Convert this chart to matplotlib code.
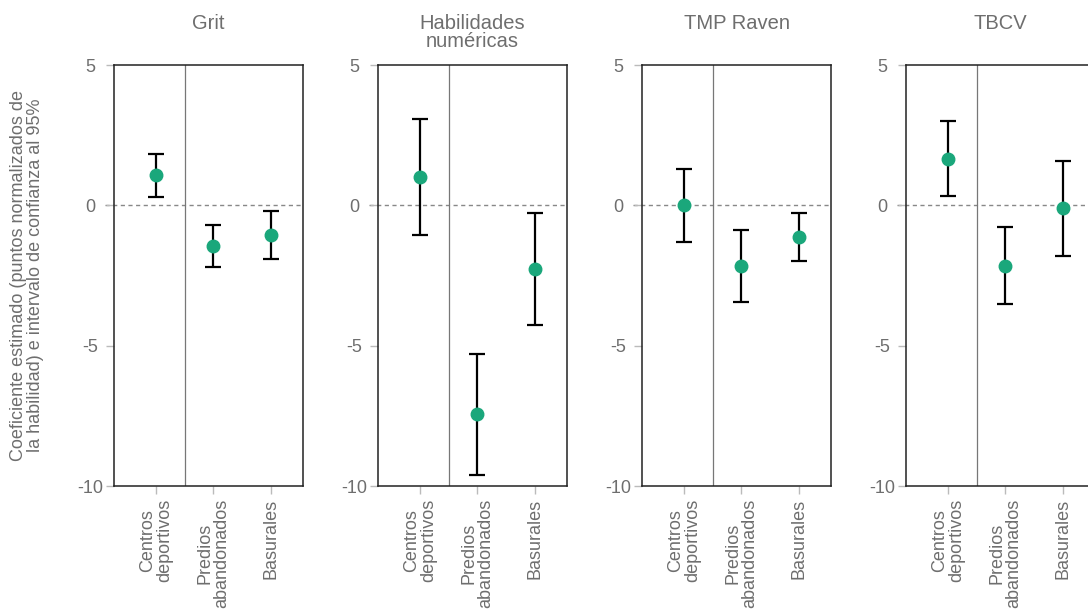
import matplotlib.pyplot as plt
import numpy as np

plt.rcParams['font.family'] = ['Liberation Sans', 'DejaVu Sans']

# Data
tests = ['Grit', 'Habilidades\nnuméricas', 'TMP Raven', 'TBCV']
places = ['Centros\ndeportivos', 'Predios\nabandonados', 'Basurales']

grit_est = [1.08, -1.44, -1.07]
grit_lo = [0.30, -2.18, -1.92]
grit_hi = [1.83, -0.69, -0.19]

num_est = [1.00, -7.43, -2.28]
num_lo = [-1.07, -9.60, -4.27]
num_hi = [3.06, -5.30, -0.29]

raven_est = [0.00, -2.17, -1.14]
raven_lo = [-1.32, -3.46, -1.99]
raven_hi = [1.28, -0.89, -0.29]

tbcv_est = [1.66, -2.15, -0.10]
tbcv_lo = [0.32, -3.53, -1.79]
tbcv_hi = [2.99, -0.78, 1.59]

estimates = [grit_est, num_est, raven_est, tbcv_est]
lowers = [grit_lo, num_lo, raven_lo, tbcv_lo]
uppers = [grit_hi, num_hi, raven_hi, tbcv_hi]

green = '#1aa77b'
grey_txt = '#6e6e6e'

W, H = 1088, 614
fig = plt.figure(figsize=(W / 100, H / 100), dpi=100)

x = np.arange(1, len(places) + 1)
for i, title in enumerate(tests):
    left = 114 + 264 * i
    ax = fig.add_axes([left / W, (H - 486) / H, 189 / W, 421 / H])
    est = np.array(estimates[i])
    lo = np.array(lowers[i])
    hi = np.array(uppers[i])
    ax.axhline(0, color='#888888', lw=1, ls=(0, (3, 2.5)), zorder=1, clip_on=False,
               xmin=-0.045, xmax=1)
    ax.axvline(1.5, color='#777777', lw=0.9, zorder=1)
    ax.errorbar(x, est, yerr=[est - lo, hi - est], fmt='none', ecolor='black',
                elinewidth=1.6, capsize=5.5, capthick=1.6, zorder=2)
    ax.plot(x, est, 'o', color=green, ms=9, zorder=3)
    ax.set_xlim(0.27, 3.56)
    ax.set_ylim(-10, 5)
    ax.set_yticks([-10, -5, 0, 5])
    ax.set_yticklabels(['-10', '-5', '0', '5'], ha='center')
    ax.set_xticks(x)
    ax.set_xticklabels(places, rotation=90, ha='center', va='top', multialignment='center',
                       linespacing=1.0)
    ax.tick_params(axis='both', colors='#bbbbbb', labelcolor=grey_txt, labelsize=13,
                   length=6, width=1)
    ax.tick_params(axis='y', pad=11)
    ax.tick_params(axis='x', pad=3)
    for s in ax.spines.values():
        s.set_color('#222222')
        s.set_linewidth(1.1)
    ax.text(0.5, 1.121, title, transform=ax.transAxes, ha='center', va='top',
            color=grey_txt, fontsize=14.5, linespacing=0.95)
    if i == 0:
        ax.set_ylabel('Coeficiente estimado (puntos normalizados de\n'
                      'la habilidad) e intervalo de confianza al 95%',
                      color=grey_txt, fontsize=13, linespacing=1.0)
        ax.yaxis.set_label_coords(-0.37, 0.5)

fig.savefig('out.png', dpi=100)
